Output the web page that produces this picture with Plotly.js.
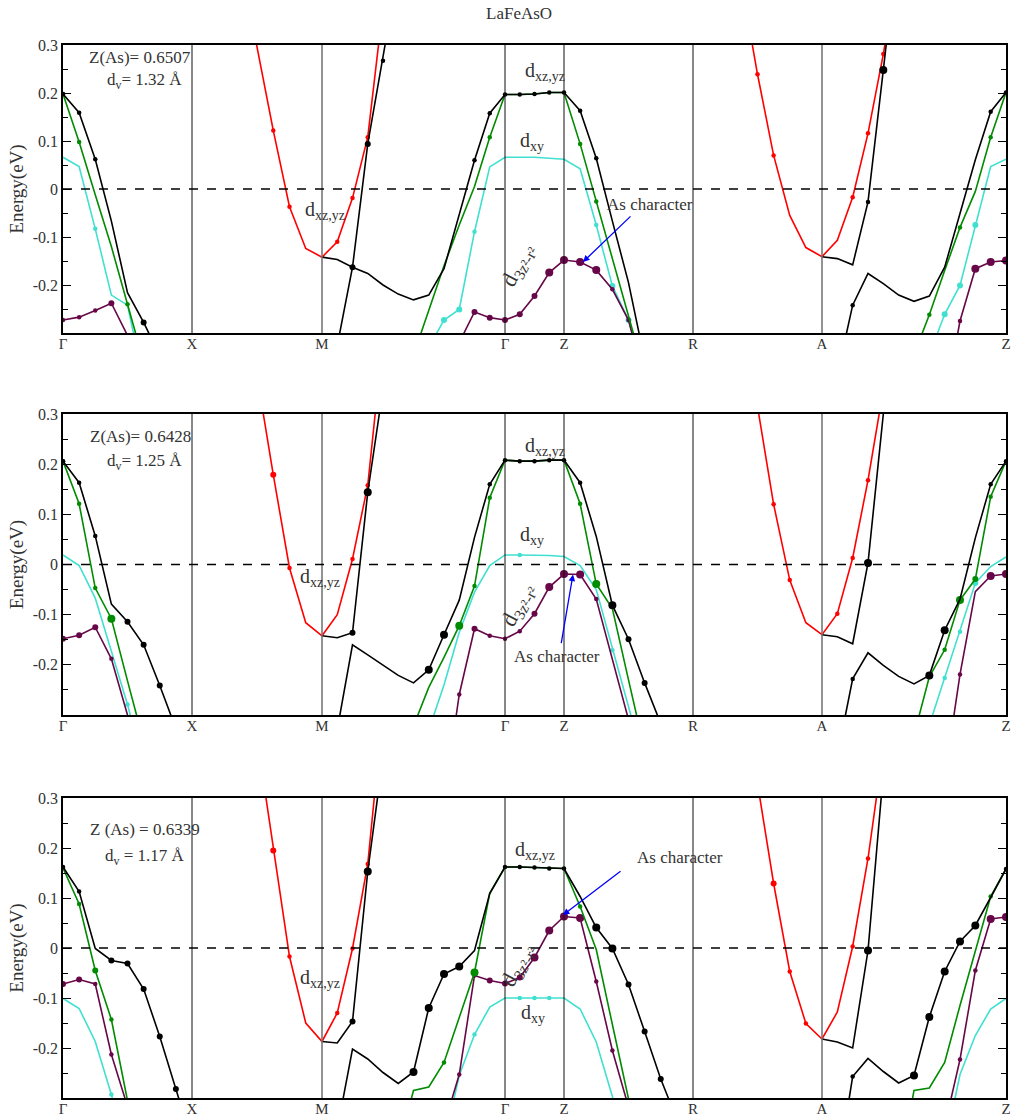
<!DOCTYPE html>
<html>
<head>
<meta charset="utf-8">
<script src="https://cdn.plot.ly/plotly-3.0.1.min.js"></script>
<style>html,body{margin:0;padding:0;background:#fff}#chart{width:1032px;height:1120px}</style>
</head>
<body>
<div id="chart"></div>
<script>
// ---- k-path (high symmetry points) ----
const kLabels = ['Γ','X','M','Γ','Z','R','A','Z'];
const kNodeIndex = [0, 8, 16, 28, 32, 40, 48, 60];
const kNodeDist = [0, 129, 259, 442, 501, 630, 759, 943];

// ---- bands: c = colour key, k0 = first k-index, E = energy (eV), w = As weight (0..3) ----
const panel1Bands = [
  {c:'cyan',   k0:0,  E:[0.066,0.047,-0.083,-0.221,-0.242,-0.40], w:[0,0,1,0,0,0]},
  {c:'purple', k0:0,  E:[-0.273,-0.267,-0.253,-0.238,-0.305], w:[1,1,1,2,0]},
  {c:'green',  k0:0,  E:[0.198,0.098,-0.012,-0.12,-0.240,-0.36], w:[1,1,0,0,1,0]},
  {c:'cyan',   k0:23, E:[-0.33,-0.273,-0.251,-0.089,0.046,0.066,0.066,0.066,0.064,0.062,0.042,-0.075,-0.202,-0.273,-0.40], w:[0,2,2,1,0,0,0,0,0,0,0,1,2,2,0]},
  {c:'purple', k0:25, E:[-0.320,-0.256,-0.268,-0.273,-0.261,-0.223,-0.174,-0.148,-0.152,-0.169,-0.209,-0.273,-0.40], w:[0,2,2,2,2,2,3,3,3,3,1,1,0]},
  {c:'green',  k0:22, E:[-0.346,-0.255,-0.16,-0.075,0.005,0.108,0.197,0.197,0.198,0.201,0.201,0.094,-0.026,-0.145,-0.266,-0.384], w:[0,0,0,0,0,1,0,0,0,0,0,1,1,0,0,0]},
  {c:'red',    k0:11, E:[0.47,0.297,0.122,-0.037,-0.124,-0.142,-0.110,-0.019,0.108,0.38], w:[0,0,1,1,0,0,1,1,1,0]},
  {c:'red',    k0:43, E:[0.43,0.239,0.070,-0.055,-0.122,-0.141,-0.107,-0.017,0.116,0.281,0.48], w:[0,1,1,0,0,0,0,1,1,1,0]},
  {c:'cyan',   k0:55, E:[-0.345,-0.261,-0.201,-0.075,0.047,0.062], w:[0,2,2,2,0,0]},
  {c:'purple', k0:56, E:[-0.45,-0.275,-0.166,-0.152,-0.149], w:[0,1,3,3,3]},
  {c:'green',  k0:54, E:[-0.345,-0.262,-0.170,-0.080,-0.005,0.108,0.201], w:[0,1,0,1,0,1,0]},
  {c:'black',  k0:0,  E:[0.198,0.159,0.062,-0.067,-0.216,-0.278,-0.347], w:[1,1,1,0,0,2,0]},
  {c:'black',  k0:16, E:[-0.142,-0.147,-0.163,-0.176,-0.200,-0.219,-0.231,-0.221,-0.166,-0.054,0.060,0.158,0.197,0.197,0.198,0.201,0.201,0.163,0.064,-0.067,-0.195,-0.356], w:[0,0,0,0,0,0,0,0,0,0,1,1,1,1,1,1,1,1,1,0,0,0]},
  {c:'black',  k0:16, E:[-0.49,-0.329,-0.163,0.094,0.267,0.457], w:[0,0,2,2,1,0]},
  {c:'black',  k0:48, E:[-0.141,-0.145,-0.158,-0.027,0.248,0.53], w:[0,0,0,1,3,0]},
  {c:'black',  k0:49, E:[-0.387,-0.242,-0.176,-0.197,-0.221,-0.234,-0.223,-0.163,-0.051,0.061,0.161,0.201], w:[0,1,0,0,0,0,0,0,0,0,1,1]}
];

const panel2Bands = [
  {c:'cyan',   k0:0,  E:[0.019,-0.002,-0.067,-0.172,-0.279,-0.40], w:[0,0,0,0,1,0]},
  {c:'purple', k0:0,  E:[-0.148,-0.141,-0.125,-0.188,-0.300,-0.45], w:[2,2,2,1,0,0]},
  {c:'green',  k0:0,  E:[0.206,0.121,-0.047,-0.108,-0.232,-0.353], w:[1,1,1,3,0,0]},
  {c:'cyan',   k0:23, E:[-0.33,-0.24,-0.135,-0.055,-0.002,0.019,0.019,0.019,0.018,0.016,-0.002,-0.05,-0.171,-0.288,-0.40], w:[0,0,0,0,0,0,1,0,0,0,0,0,1,0,0]},
  {c:'purple', k0:24, E:[-0.47,-0.259,-0.128,-0.142,-0.148,-0.133,-0.098,-0.045,-0.019,-0.020,-0.069,-0.187,-0.309], w:[0,1,2,1,1,1,2,3,3,3,1,0,0]},
  {c:'green',  k0:22, E:[-0.322,-0.245,-0.185,-0.122,-0.043,0.133,0.208,0.206,0.206,0.208,0.208,0.121,-0.039,-0.088,-0.230,-0.37], w:[0,0,0,3,1,1,0,0,0,0,0,1,3,0,0,0]},
  {c:'red',    k0:11, E:[0.55,0.377,0.179,-0.007,-0.116,-0.142,-0.100,0.011,0.158,0.45], w:[0,0,2,1,0,0,0,1,1,0]},
  {c:'red',    k0:43, E:[0.51,0.315,0.120,-0.031,-0.116,-0.140,-0.098,0.013,0.168,0.349,0.55], w:[0,0,1,1,0,0,1,1,1,0,0]},
  {c:'cyan',   k0:55, E:[-0.32,-0.226,-0.134,-0.037,-0.004,0.015], w:[0,1,1,2,0,0]},
  {c:'purple', k0:56, E:[-0.425,-0.219,-0.054,-0.023,-0.019], w:[0,1,0,3,3]},
  {c:'green',  k0:54, E:[-0.34,-0.224,-0.170,-0.071,-0.029,0.135,0.206], w:[0,0,1,3,2,1,0]},
  {c:'black',  k0:0,  E:[0.206,0.163,0.057,-0.079,-0.114,-0.160,-0.241,-0.327], w:[1,1,1,0,2,2,2,0]},
  {c:'black',  k0:16, E:[-0.142,-0.146,-0.136,0.144,0.35], w:[0,0,2,3,0]},
  {c:'black',  k0:17, E:[-0.329,-0.160,-0.180,-0.201,-0.221,-0.236,-0.210,-0.140,-0.071,0.054,0.160,0.208,0.206,0.206,0.208,0.208,0.163,0.056,-0.081,-0.149,-0.236,-0.317], w:[0,0,0,0,0,0,3,3,0,0,1,1,1,1,1,1,1,0,3,2,2,0]},
  {c:'black',  k0:48, E:[-0.140,-0.144,-0.158,0.003,0.30,0.6], w:[0,0,0,3,0,0]},
  {c:'black',  k0:49, E:[-0.381,-0.228,-0.176,-0.201,-0.223,-0.238,-0.221,-0.131,-0.069,0.053,0.160,0.206], w:[0,1,0,0,0,0,3,3,0,0,1,1]}
];

const panel3Bands = [
  {c:'cyan',   k0:0,  E:[-0.101,-0.121,-0.187,-0.293,-0.42], w:[0,0,0,1,0]},
  {c:'purple', k0:0,  E:[-0.072,-0.063,-0.072,-0.213,-0.317], w:[2,2,1,1,0]},
  {c:'green',  k0:0,  E:[0.160,0.088,-0.045,-0.143,-0.305,-0.45], w:[1,1,2,1,0,0]},
  {c:'cyan',   k0:24, E:[-0.39,-0.255,-0.173,-0.118,-0.100,-0.100,-0.100,-0.100,-0.100,-0.122,-0.188,-0.297,-0.42], w:[0,0,1,0,0,1,1,1,0,0,0,0,0]},
  {c:'purple', k0:24, E:[-0.355,-0.253,-0.055,-0.065,-0.071,-0.059,-0.019,0.035,0.063,0.060,-0.067,-0.205,-0.318], w:[0,1,1,2,2,2,3,3,3,3,1,1,0]},
  {c:'green',  k0:21, E:[-0.40,-0.285,-0.278,-0.229,-0.139,-0.049,0.110,0.162,0.162,0.161,0.159,0.159,0.083,-0.003,-0.153,-0.313,-0.45], w:[0,0,0,1,0,3,0,0,0,0,0,0,1,0,0,0,0]},
  {c:'red',    k0:11, E:[0.64,0.418,0.195,-0.017,-0.150,-0.187,-0.130,-0.001,0.168,0.478], w:[0,0,2,1,0,0,1,1,1,0]},
  {c:'red',    k0:43, E:[0.53,0.33,0.129,-0.047,-0.151,-0.182,-0.128,0.003,0.179,0.40,0.6], w:[0,0,2,1,1,0,0,1,1,0,0]},
  {c:'cyan',   k0:56, E:[-0.40,-0.253,-0.175,-0.122,-0.101], w:[0,0,0,0,0]},
  {c:'purple', k0:56, E:[-0.357,-0.223,-0.045,0.058,0.062], w:[0,1,1,3,3]},
  {c:'green',  k0:53, E:[-0.45,-0.285,-0.280,-0.229,-0.115,-0.008,0.103,0.158], w:[0,0,0,0,0,0,1,0]},
  {c:'black',  k0:0,  E:[0.162,0.113,-0.001,-0.025,-0.031,-0.082,-0.177,-0.282,-0.387], w:[1,1,0,2,2,2,2,2,0]},
  {c:'black',  k0:16, E:[-0.187,-0.190,-0.147,0.153,0.383], w:[0,0,2,3,0]},
  {c:'black',  k0:17, E:[-0.363,-0.202,-0.222,-0.249,-0.271,-0.248,-0.120,-0.052,-0.037,-0.005,0.109,0.162,0.162,0.161,0.159,0.159,0.103,0.041,-0.001,-0.073,-0.167,-0.262,-0.343], w:[0,0,0,0,0,3,3,3,3,0,0,1,1,1,1,1,0,3,3,2,2,2,0]},
  {c:'black',  k0:48, E:[-0.182,-0.188,-0.200,-0.005,0.35,0.7], w:[0,0,0,3,0,0]},
  {c:'black',  k0:49, E:[-0.45,-0.257,-0.221,-0.247,-0.270,-0.255,-0.138,-0.047,0.013,0.045,0.101,0.158], w:[0,1,0,0,0,3,3,3,3,3,0,1]}
];

// ---- text labels ----
const zAsText = ['Z(As)= 0.6507', 'Z(As)= 0.6428', 'Z (As) = 0.6339'];
const dvText = ['d<sub>v</sub>= 1.32 Å', 'd<sub>v</sub>= 1.25 Å', 'd<sub>v</sub> = 1.17 Å'];
const chartTitle = 'LaFeAsO';

// ---- styling / helpers ----
const COLORS = {black:'#000000', red:'#ff0000', green:'rgb(0,139,0)', cyan:'rgb(64,224,208)', purple:'rgb(103,7,72)'};
const SIZE = [0, 4.5, 6, 8];
const FONT = 'Liberation Serif, serif';
const TXT = '#333333';

function kOf(i){
  for (let s = 0; s < kNodeIndex.length - 1; s++) {
    const a = kNodeIndex[s], b = kNodeIndex[s+1];
    if (i <= b) return kNodeDist[s] + (kNodeDist[s+1] - kNodeDist[s]) * (i - a) / (b - a);
  }
  return kNodeDist[kNodeDist.length-1];
}

const traces = [];
[panel1Bands, panel2Bands, panel3Bands].forEach((bands, p) => {
  const ax = p === 0 ? '' : String(p+1);
  bands.forEach(b => {
    traces.push({
      type:'scatter', mode:'lines+markers',
      x: b.E.map((_, j) => kOf(b.k0 + j)),
      y: b.E,
      xaxis:'x'+ax, yaxis:'y'+ax,
      line:{color:COLORS[b.c], width:1.6},
      marker:{color:COLORS[b.c], size:b.w.map(v => SIZE[v]), opacity:1, line:{width:0}},
      showlegend:false, hoverinfo:'skip'
    });
  });
});

const domains = [[0.7265, 1], [0.3637, 0.6496], [0, 0.2849]];
const layout = {
  width:1032, height:1120,
  margin:{l:63, r:26, t:45, b:22},
  paper_bgcolor:'#ffffff', plot_bgcolor:'#ffffff',
  font:{family:FONT, color:TXT, size:15},
  title:{text:chartTitle, x:0.503, xanchor:'center', y:0.988, yanchor:'middle', font:{family:FONT, size:17, color:TXT}},
  showlegend:false,
  shapes:[], annotations:[]
};

for (let p = 0; p < 3; p++) {
  const ax = p === 0 ? '' : String(p+1);
  layout['xaxis'+ax] = {
    domain:[0,1], anchor:'y'+ax, range:[0, kNodeDist[kNodeDist.length-1]],
    tickmode:'array', tickvals:kNodeDist, ticktext:kLabels, ticks:'', ticklabelstandoff:-4,
    showgrid:false, zeroline:false, showline:true, mirror:true, linecolor:'#000', linewidth:1.5,
    tickfont:{family:FONT, size:15, color:TXT}
  };
  layout['yaxis'+ax] = {
    domain:domains[p], anchor:'x'+ax, range:[-0.3, 0.3],
    tickmode:'array', tickvals:[-0.2,-0.1,0,0.1,0.2,0.3], ticktext:['-0.2','-0.1','0','0.1','0.2','0.3'],
    ticks:'inside', ticklen:8, tickwidth:1, tickcolor:'#000',
    minor:{ticks:'inside', ticklen:5, dtick:0.05, tick0:0, tickcolor:'#000', showgrid:false},
    showgrid:false, zeroline:false, showline:true, mirror:'ticks', linecolor:'#000', linewidth:1.5,
    tickfont:{family:FONT, size:16, color:TXT},
    title:{text:'Energy(eV)', font:{family:FONT, size:19, color:TXT}, standoff:4}
  };
  kNodeDist.slice(1, -1).forEach((k, j) => {
    const grey = (kLabels[j+1] === 'M' || kLabels[j+1] === 'A');
    layout.shapes.push({type:'line', xref:'x'+ax, yref:'y'+ax+' domain', x0:k, x1:k, y0:0, y1:1,
      line:{color: grey ? '#777777' : '#111111', width: grey ? 1.6 : 1}});
  });
  layout.shapes.push({type:'line', xref:'x'+ax+' domain', yref:'y'+ax, x0:0, x1:1, y0:0, y1:0,
    line:{color:'#000', width:1.5, dash:'dash'}});
}

function ann(p, x, y, text, size, extra){
  const ax = p === 0 ? '' : String(p+1);
  return Object.assign({xref:'x'+ax, yref:'y'+ax, x:x, y:y, text:text, showarrow:false,
    font:{family:FONT, size:size, color:TXT}}, extra || {});
}
function arrow(p, x, y, dx, dy){
  const ax = p === 0 ? '' : String(p+1);
  return {xref:'x'+ax, yref:'y'+ax, x:x, y:y, text:'', showarrow:true, arrowhead:2, arrowsize:1,
    arrowwidth:1.3, arrowcolor:'#0000ff', ax:dx, ay:dy, standoff:0};
}
const L = layout.annotations;
// panel 1
L.push(ann(0, 77, 0.275, zAsText[0], 17));
L.push(ann(0, 81, 0.225, dvText[0], 17));
L.push(ann(0, 482, 0.245, 'd<sub>xz,yz</sub>', 20));
L.push(ann(0, 469, 0.098, 'd<sub>xy</sub>', 20));
L.push(ann(0, 262, -0.044, 'd<sub>xz,yz</sub>', 20));
L.push(ann(0, 957, -0.015, 'E<sub>F</sub>', 20));
L.push(ann(0, 587, -0.033, 'As character', 17));
L.push(arrow(0, 520, -0.152, 49, -47));
L.push(ann(0, 455, -0.16, 'd<sub>3z²-r²</sub>', 22, {textangle:-62}));
// panel 2
L.push(ann(1, 77, 0.255, zAsText[1], 17));
L.push(ann(1, 81, 0.205, dvText[1], 17));
L.push(ann(1, 482, 0.236, 'd<sub>xz,yz</sub>', 20));
L.push(ann(1, 469, 0.058, 'd<sub>xy</sub>', 20));
L.push(ann(1, 257, -0.026, 'd<sub>xz,yz</sub>', 20));
L.push(ann(1, 957, -0.010, 'E<sub>F</sub>', 20));
L.push(ann(1, 494, -0.183, 'As character', 17));
L.push(arrow(1, 510, -0.020, -12, 70));
L.push(ann(1, 455, -0.082, 'd<sub>3z²-r²</sub>', 22, {textangle:-62}));
// panel 3
L.push(ann(2, 82, 0.238, zAsText[2], 17));
L.push(ann(2, 82, 0.182, dvText[2], 17));
L.push(ann(2, 472, 0.196, 'd<sub>xz,yz</sub>', 20));
L.push(ann(2, 470, -0.130, 'd<sub>xy</sub>', 20));
L.push(ann(2, 257, -0.060, 'd<sub>xz,yz</sub>', 20));
L.push(ann(2, 957, -0.010, 'E<sub>F</sub>', 20));
L.push(ann(2, 617, 0.182, 'As character', 17));
L.push(arrow(2, 500, 0.066, 59, -45));
L.push(ann(2, 455, -0.036, 'd<sub>3z²-r²</sub>', 22, {textangle:-62}));

Plotly.newPlot('chart', traces, layout, {displayModeBar:false});
</script>
</body>
</html>
